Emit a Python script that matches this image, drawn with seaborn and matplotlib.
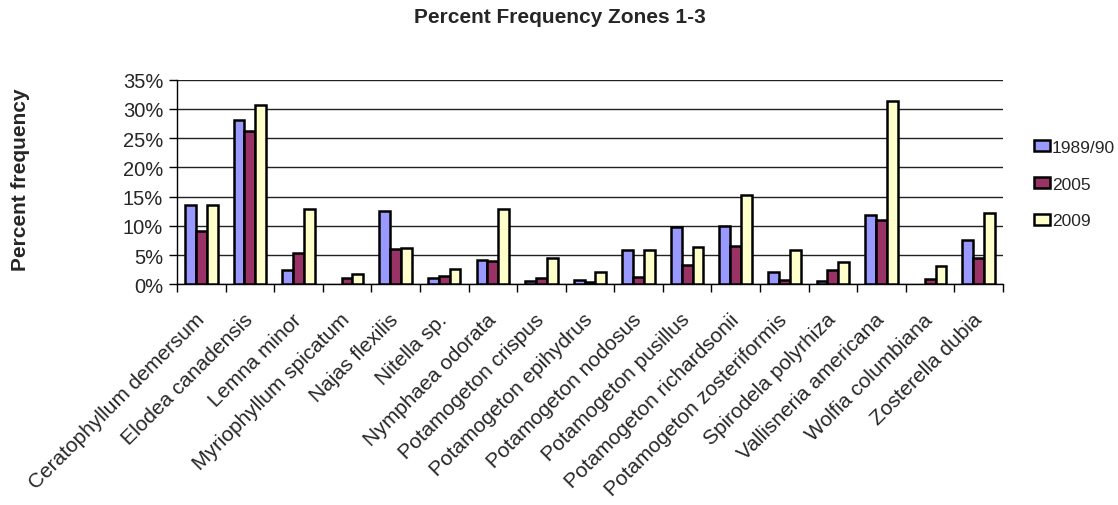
import matplotlib
matplotlib.use("Agg")
import matplotlib.pyplot as plt
from matplotlib.ticker import FixedLocator, PercentFormatter
from matplotlib.patches import Patch
import numpy as np
import pandas as pd
import seaborn as sns

species = [
    "Ceratophyllum demersum", "Elodea canadensis", "Lemna minor",
    "Myriophyllum spicatum", "Najas flexilis", "Nitella sp.",
    "Nymphaea odorata", "Potamogeton crispus", "Potamogeton epihydrus",
    "Potamogeton nodosus", "Potamogeton pusillus", "Potamogeton richardsonii",
    "Potamogeton zosteriformis", "Spirodela polyrhiza", "Vallisneria americana",
    "Wolfia columbiana", "Zosterella dubia",
]
years = ["1989/90", "2005", "2009"]

freq_1989 = [13.6, 28.1, 2.5, 0.0, 12.6, 1.1, 4.2, 0.6, 0.8, 5.9, 9.75, 9.9,
             2.05, 0.5, 11.9, 0.0, 7.5]
freq_2005 = [9.1, 26.2, 5.4, 1.0, 6.0, 1.4, 4.0, 1.1, 0.35, 1.25, 3.3, 6.6,
             0.8, 2.5, 11.0, 0.95, 4.5]
freq_2009 = [13.5, 30.6, 12.8, 1.8, 6.2, 2.7, 12.8, 4.45, 2.05, 5.9, 6.4, 15.3,
             5.9, 3.8, 31.4, 3.1, 12.2]

colors = ["#9999FF", "#993366", "#FFFFCC"]

df = pd.DataFrame({
    "species": species * 3,
    "year": np.repeat(years, len(species)),
    "freq": freq_1989 + freq_2005 + freq_2009,
})

sns.set_style("white")
plt.rcParams["font.family"] = ["Liberation Sans", "DejaVu Sans"]

fig = plt.figure(figsize=(11.18, 5.06), dpi=100)
ax = fig.add_axes([0.1583, 0.4362, 0.7388, 0.4043])

sns.barplot(data=df, x="species", y="freq", hue="year", order=species,
            hue_order=years, palette=colors, width=0.67, gap=0,
            edgecolor="black", linewidth=1.8, saturation=1, ax=ax,
            legend=False, zorder=3)

# a species absent in a survey gets no visible bar outline
for bar in ax.patches:
    if bar.get_height() == 0:
        bar.set_linewidth(0)

ax.set_ylim(0, 35)
ax.set_xlim(-0.5, len(species) - 0.5)
ax.yaxis.set_major_locator(FixedLocator(np.arange(0, 36, 5)))
ax.yaxis.set_major_formatter(PercentFormatter(decimals=0))
ax.yaxis.grid(True, color="#222222", linewidth=1.0, zorder=0)
ax.set_axisbelow(True)

for s in ["top", "right"]:
    ax.spines[s].set_visible(False)
for s in ["left", "bottom"]:
    ax.spines[s].set_color("black")
    ax.spines[s].set_linewidth(1.0)

ax.tick_params(axis="y", which="major", direction="out", length=6, width=1,
               color="black", labelsize=14.5, pad=4, left=True)
ax.tick_params(axis="x", which="major", length=0, labelsize=15, pad=23)
ax.set_xticks(np.arange(-0.5, len(species), 1.0), minor=True)
ax.tick_params(axis="x", which="minor", direction="out", length=6, width=1,
               color="black", bottom=True)

ax.set_xticks(range(len(species)))
ax.set_xticklabels(species, rotation=45, ha="right", va="center",
                   rotation_mode="anchor")
ax.set_xlabel("")
ax.set_ylabel("")

fig.text(0.501, 0.966, "Percent Frequency Zones 1-3", ha="center", va="center",
         fontsize=15, fontweight="bold")
fig.text(0.018, 0.645, "Percent frequency", rotation=90, ha="center",
         va="center", fontsize=15, fontweight="bold")

handles = [Patch(facecolor=c, edgecolor="black", linewidth=1.8) for c in colors]
fig.legend(handles, years, loc="upper left", bbox_to_anchor=(0.919, 0.735),
           frameon=False, fontsize=12.5, handlelength=0.9, handleheight=0.6,
           handletextpad=0.1, labelspacing=1.25, borderaxespad=0)

fig.savefig("out.png", dpi=100)
